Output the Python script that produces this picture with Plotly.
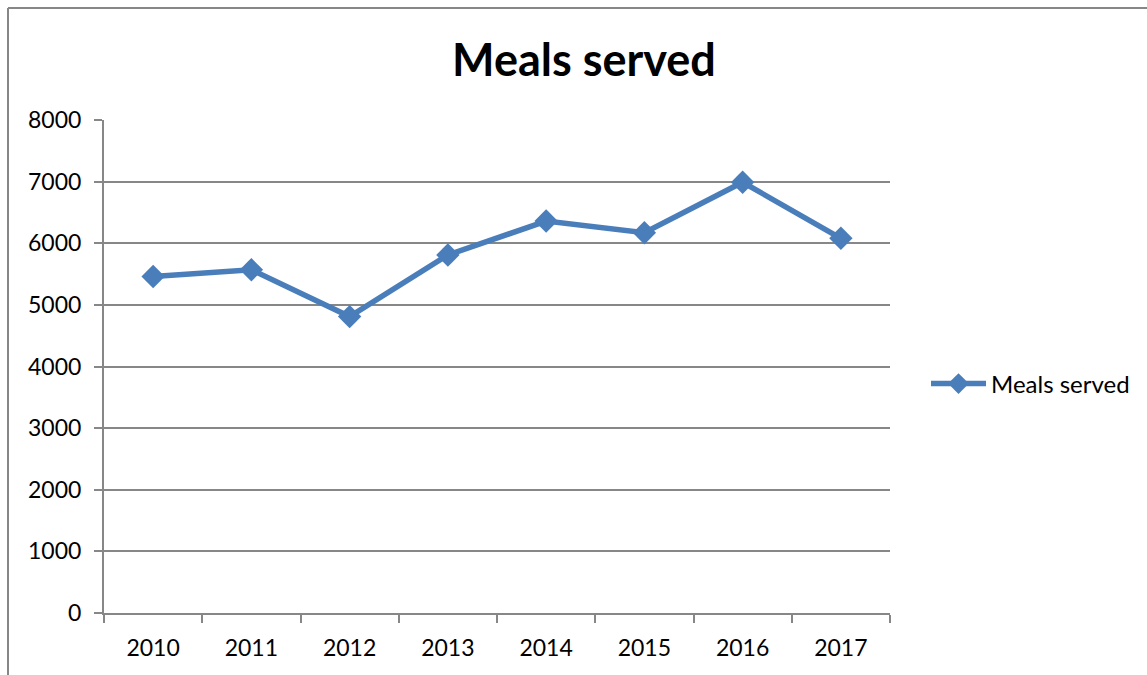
import plotly.graph_objects as go

years = ["2010", "2011", "2012", "2013", "2014", "2015", "2016", "2017"]
meals = [5460, 5570, 4810, 5810, 6360, 6170, 6990, 6080]
series_name = "Meals served"
title_text = "Meals served"
y_ticks = [0, 1000, 2000, 3000, 4000, 5000, 6000, 7000, 8000]

W, H = 1147, 675
L, R, T, B = 104, 890, 120, 613
pw, ph = R - L, B - T

FONT = "Lato, 'Open Sans', sans-serif"
LINE = "#4A7EBB"
GRID = "#878787"

fig = go.Figure()
fig.add_trace(go.Scatter(
    x=years, y=meals, name=series_name, mode="lines+markers",
    line=dict(color=LINE, width=5.5),
    marker=dict(symbol="diamond", size=18, color=LINE),
))

def px_x(x):
    return (x - L) / pw

def px_y(y):
    return (B - y) / ph

fig.update_layout(
    width=W, height=H,
    margin=dict(l=L, r=W - R, t=T, b=H - B, pad=0),
    paper_bgcolor="white", plot_bgcolor="white",
    font=dict(family=FONT, size=23, color="black"),
    title=dict(text="<b>" + title_text + "</b>", font=dict(size=45, family=FONT, color="black"),
               xref="container", x=584 / W, xanchor="center",
               yref="container", y=1 - 60 / H, yanchor="middle"),
    showlegend=True,
    legend=dict(x=px_x(926), xanchor="left", y=px_y(384), yanchor="middle",
                font=dict(size=24, family=FONT), itemwidth=55,
                bgcolor="rgba(0,0,0,0)", traceorder="normal"),
    xaxis=dict(type="category", range=[-0.5, 7.5], tickson="boundaries",
               ticks="outside", ticklen=8, tickcolor=GRID, tickwidth=2,
               showline=True, linecolor=GRID, linewidth=2, showgrid=False,
               ticklabelstandoff=13, zeroline=False, fixedrange=True),
    yaxis=dict(range=[0, 8000], tickvals=y_ticks, ticks="outside", ticklen=8,
               tickcolor=GRID, tickwidth=2, showline=True, linecolor=GRID, linewidth=2,
               showgrid=True, gridcolor=GRID, gridwidth=2, zeroline=False,
               ticklabelstandoff=8, fixedrange=True),
    shapes=[
        dict(type="line", xref="paper", yref="paper",
             x0=px_x(8), x1=px_x(8), y0=px_y(H + 5), y1=px_y(8),
             line=dict(color=GRID, width=2)),
        dict(type="line", xref="paper", yref="paper",
             x0=px_x(8), x1=px_x(W + 5), y0=px_y(8), y1=px_y(8),
             line=dict(color=GRID, width=2)),
    ],
)

fig.write_html("out.html")
